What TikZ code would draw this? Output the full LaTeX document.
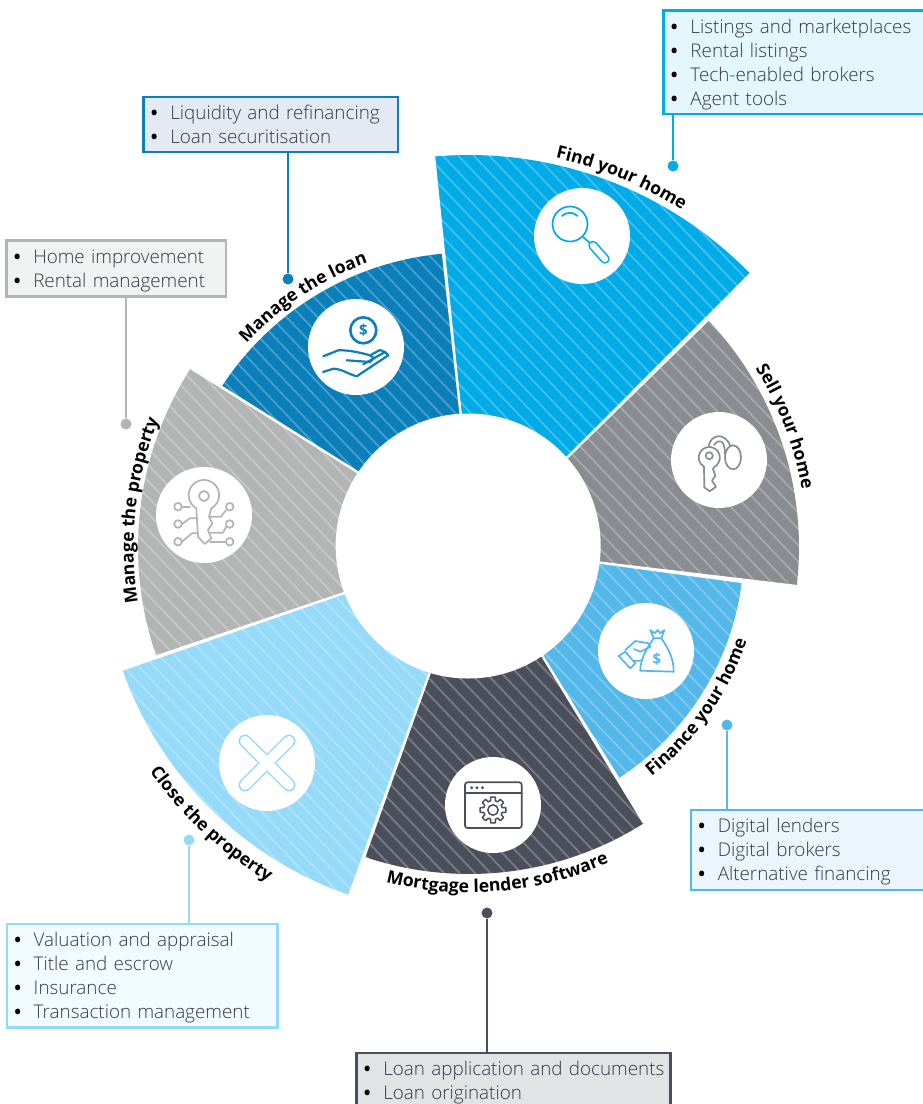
\documentclass[tikz,border=0pt]{standalone}
\usepackage{fontspec}
\setmainfont{Open Sans}[UprightFont=* Light,BoldFont=* Bold]
\usetikzlibrary{calc,decorations.text}
\definecolor{cfind}{HTML}{00ABE8}
\definecolor{csell}{HTML}{898C90}
\definecolor{cfin}{HTML}{54B7E9}
\definecolor{cmort}{HTML}{4A4F5B}
\definecolor{cclose}{HTML}{95DAF9}
\definecolor{cprop}{HTML}{B3B5B5}
\definecolor{cloan}{HTML}{0A7FBA}
\definecolor{floan}{HTML}{E3EAF4}
\definecolor{txt}{HTML}{333A45}
\newcommand\bul{\makebox[16pt][l]{\hspace*{-3.5pt}\textcolor{black}{\fontsize{18}{18}\bfseries\textbullet}}}
\newcommand\topstrut{\rule{0pt}{19pt}}
\newcommand\botstrut{\rule[-4.5pt]{0pt}{4.5pt}}
\newcommand\wedgeseg[6]{% outer from, outer to, inner from, inner to, outer radius, colour
  \begin{scope}
    \clip ($(C)+(#1:#5 pt)$) arc[start angle=#1,end angle=#2,radius=#5 pt]
      -- ($(C)+(#4:128pt)$) arc[start angle=#4,end angle=#3,radius=128pt] -- cycle;
    \fill[#6] (0,0) rectangle (923,1104);
    \foreach \k in {-70,...,60}{\draw[stripe] (15.5*\k,0) -- (15.5*\k+1000,1050);}
  \end{scope}
  \draw[seam] ($(C)+(#3:128pt)$) -- ($(C)+(#1:#5 pt)$);
  \draw[seam] ($(C)+(#4:128pt)$) -- ($(C)+(#2:#5 pt)$);
}
\newcommand\arclabel[4]{% mid angle, span (signed), radius, text
  \path[decorate,decoration={text along path,text align={center},
    text={|\bfseries\fontsize{17.6}{18}\selectfont\color{black}|#4}}]
    ($(C)+({#1-#2}:#3 pt)$) arc[start angle={#1-#2},end angle={#1+#2},radius=#3 pt];
}
\tikzset{
  stripe/.style={white,opacity=.25,line width=1.8pt},
  seam/.style={white,line width=2.2pt},
  disc/.style={circle,fill=white,minimum size=96pt,inner sep=0pt},
  hubdisc/.style={circle,fill=white,minimum size=265pt,inner sep=0pt},
  lst/.style={draw=#1,line width=2.5pt,inner xsep=11pt,inner ysep=0pt,anchor=north west,align=left,
    text=txt,font=\fontsize{18.85}{24}\selectfont},
  pin/.style={circle,fill=#1,minimum size=11pt,inner sep=0pt},
  lead/.style={draw=#1,line width=2.5pt},
  ico/.style={draw=#1,line width=1.7pt,line cap=round,line join=round},
}
\begin{document}
\begin{tikzpicture}[x=1pt,y=-1pt]
\useasboundingbox (0,0) rectangle (923,1104);
\clip (0,0) rectangle (923,1104);
\coordinate (C) at (469,547.5);
\wedgeseg{95.1}{44.2}{93.5}{42.4}{392.5}{cfind}
\wedgeseg{43.6}{-6.7}{42.4}{-6.6}{330}{csell}
\wedgeseg{-7.2}{-57.1}{-6.6}{-55.9}{275}{cfin}
\wedgeseg{-57.6}{-108.7}{-55.9}{-107.4}{326.5}{cmort}
\wedgeseg{-109}{-160.6}{-107.4}{-159.9}{367.5}{cclose}
\wedgeseg{-160.8}{-212.8}{-159.9}{-214.2}{331}{cprop}
\wedgeseg{147}{95.06}{145.8}{93.5}{295}{cloan}
\node[hubdisc] (hub) at (468.2,546) {};
\node[disc] (dfind) at (582,236) {};
\node[disc] (dsell) at (719,460) {};
\node[disc] (dfin) at (646,651) {};
\node[disc] (dmort) at (493,805) {};
\node[disc] (dclose) at (267,763) {};
\node[disc] (dprop) at (204,515) {};
\node[disc] (dloan) at (356,347) {};
% labels
\arclabel{67.6}{-30}{399}{Find your home}
\arclabel{21}{-30}{338}{Sell your home}
\arclabel{-35}{30}{293}{Finance your home}
\arclabel{-85}{30}{345}{Mortgage lender software}
\arclabel{-133}{30}{390}{Close the property}
\arclabel{173.5}{-30}{335.5}{Manage the property}
\arclabel{123.5}{-30}{302}{Manage the loan}
% boxes
\node[lst=cfind,fill=cfind!10,text width=280pt,minimum height=103.5pt] (bfind) at (662.2,9.2)
  {\bul\topstrut Listings and marketplaces\\\bul Rental listings\\\bul Tech-enabled brokers\\\bul Agent tools\botstrut};
\node[lst=cloan,fill=floan,text width=232.5pt,minimum height=55pt] (bloan) at (142,95.5)
  {\bul\topstrut Liquidity and refinancing\\\bul Loan securitisation\botstrut};
\node[lst=cprop,fill=cprop!18,text width=197.5pt,minimum height=56pt] (bprop) at (5,239)
  {\bul\topstrut Home improvement\\\bul Rental management\botstrut};
\node[lst=cfin,fill=cfin!12,text width=260pt,minimum height=80pt] (bfin) at (689.5,808.5)
  {\bul\topstrut Digital lenders\\\bul Digital brokers\\\bul Alternative financing\botstrut};
\node[lst=cclose,fill=cclose!12,text width=248.5pt,minimum height=103.5pt] (bclose) at (5.5,922.7)
  {\bul\topstrut Valuation and appraisal\\\bul Title and escrow\\\bul Insurance\\\bul Transaction management\botstrut};
\node[lst=cmort,fill=cmort!16,text width=292pt,minimum height=55pt] (bmort) at (355,1051.5)
  {\bul\topstrut\makebox[276pt][l]{Loan application and documents}\\\bul Loan origination\botstrut};
% pins and leaders
\node[pin=cfind] (pfind) at (673,166) {};
\node[pin=cloan] (ploan) at (288,279) {};
\node[pin=cprop] (pprop) at (126,424) {};
\node[pin=cfin] (pfin) at (727,725) {};
\node[pin=cmort] (pmort) at (487,913) {};
\node[pin=cclose] (pclose) at (189,840) {};
\draw[lead=cfind] (pfind) -- (pfind |- bfind.south);
\draw[lead=cloan] (ploan) -- (ploan |- bloan.south);
\draw[lead=cprop] (pprop) -- (pprop |- bprop.south);
\draw[lead=cfin] (pfin) -- (pfin |- bfin.north);
\draw[lead=cmort] (pmort) -- (pmort |- bmort.north);
\draw[lead=cclose] (pclose) -- (pclose |- bclose.north);
% icon: magnifier
\begin{scope}[shift={(dfind.center)},y=1pt]
  \draw[ico=cfind] (-12,12) circle[radius=17.5pt];
  \draw[ico=cfind] (-20,20) arc[start angle=135,end angle=45,radius=11pt];
  \draw[ico=cfind] (1,-1) -- (8,-7);
  \draw[cfind,line width=9.5pt,line cap=round] (11,-9.5) -- (23,-23);
  \draw[white,line width=6.3pt,line cap=round] (11,-9.5) -- (23,-23);
\end{scope}
% icon: hand and coin
\begin{scope}[shift={(dloan.center)},y=1pt]
  \draw[ico=cloan,line width=2.6pt] (7.3,16.7) circle[radius=13pt];
  \node[text=cloan,font=\bfseries\fontsize{15}{15}\selectfont] (dollarA) at (7.3,16.7) {\$};
  \draw[ico=cloan,line width=2.2pt] (-32.7,-9.3) -- (-17.7,-3.3) .. controls (-8,-3) and (2,-5) .. (14,-8.3) -- (24,-3) -- (29,-5);
  \draw[ico=cloan,line width=2.2pt] (-9.3,-13.3) -- (14,-15) -- (18,-11) -- (14,-8.3);
  \draw[ico=cloan,line width=2.2pt] (-33,-25) -- (-22.7,-21.7) .. controls (-14,-22) and (-8,-27) .. (0.7,-29.3) -- (32.3,-8.3) -- (29,-5) -- (7.3,-17.3);
\end{scope}
% icon: digital key
\begin{scope}[shift={(dprop.center)},y=1pt]
  \draw[ico=cprop] (0,19) circle[radius=5pt];
  \draw[ico=cprop] (-7.7,6.7) arc[start angle=-120,end angle=-420,radius=15.2pt];
  \draw[ico=cprop] (-7.7,6.7) -- (-6,-21.7) -- (0.7,-29) -- (7.3,-23.3) -- (4,-15) -- (8.3,-8.3) -- (5,-1.7) -- (7.3,6.7);
  \foreach \px/\py in {-26/8.3,-26/-9,-26/-26.7,25.7/8.3,25.7/-9,25.7/-26.7}
    {\draw[ico=cprop] (\px,\py) circle[radius=3.8pt];}
  \draw[ico=cprop] (-22,8.3) -- (-14,8.3);
  \draw[ico=cprop] (-22,-9) -- (-14,-3.3) -- (-7,-3.3);
  \draw[ico=cprop] (-22,-26.7) -- (-12,-18.3) -- (-6,-18.3);
  \draw[ico=cprop] (22,5) -- (17,-1.7) -- (5,-1.7);
  \draw[ico=cprop] (22,-12) -- (19,-17.7) -- (7,-17.7);
  \draw[ico=cprop] (22,-26.7) -- (6,-26.7);
\end{scope}
% icon: keys
\begin{scope}[shift={(dsell.center)},y=1pt]
  \draw[ico=csell] (-9.7,4.3) circle[radius=3.5pt];
  \draw[ico=csell] (-15,-6.7) arc[start angle=-120,end angle=-420,radius=10.6pt];
  \draw[ico=csell] (-15,-6.7) -- (-14.7,-27.3) -- (-9.3,-31.3) -- (-3,-26.7) -- (-7,-20.7) -- (-3.7,-15.7) -- (-6,-9) -- (-4.4,-6.7);
  \draw[ico=csell] (14,2.7) ellipse[x radius=8pt,y radius=12pt];
  \draw[ico=csell] (-10.3,14.3) .. controls (-8,26) and (6,28) .. (11.3,14);
  \draw[ico=csell] (-5,15) .. controls (0,22) and (6,20) .. (6,6);
\end{scope}
% icon: money bag
\begin{scope}[shift={(dfin.center)},y=1pt]
  \draw[ico=cfin] (4.3,21) -- (8.7,17.7) -- (11.7,21) -- (14.3,17.7) -- (18.3,21) -- (15.3,12.7) -- (7.7,12.7) -- cycle;
  \draw[ico=cfin] (7.7,12.7) .. controls (2,5) and (-6,-8) .. (-5.7,-19.7) -- (27.7,-20.7) .. controls (28,-6) and (20,6) .. (15.3,12.7);
  \node[text=cfin,font=\bfseries\fontsize{15}{15}\selectfont] (dollarB) at (11,-8) {\$};
  \draw[ico=cfin] (-27.3,-5) -- (-20.7,-0.7) -- (-10.7,-12.3) -- (-15.7,-17.3) -- cycle;
  \draw[ico=cfin] (-20.7,1) -- (-10.7,10) -- (2.7,7.7) -- (4.3,4.3) -- (-5.7,-0.7);
  \draw[ico=cfin] (-12,-10) -- (-4,-9.5);
  \draw[ico=cfin] (-12,2) -- (-5.7,-0.7);
\end{scope}
% icon: cross
\begin{scope}[shift={(dclose.center)},y=1pt]
  \draw[cclose,line width=13pt,line cap=round] (-22,22) -- (22,-22) (-22,-22) -- (22,22);
  \draw[white,line width=10pt,line cap=round] (-22,22) -- (22,-22) (-22,-22) -- (22,22);
\end{scope}
% icon: window and gear
\begin{scope}[shift={(dmort.center)},y=1pt]
  \draw[ico=cmort,rounded corners=2.5pt] (-28,22.7) rectangle (28.7,-23);
  \draw[ico=cmort] (-28,12.3) -- (28.7,12.3);
  \foreach \xx in {-21.3,-16,-10.5}{\fill[cmort] (\xx,17.3) circle[radius=1.6pt];}
  \begin{scope}[shift={(0,-5)}]
    \draw[ico=cmort,line width=1.5pt] (0,0) circle[radius=5.2pt];
    \foreach \a in {0,45,...,315}{
      \draw[ico=cmort,line width=1.5pt] ({\a-15}:9.5pt) -- ({\a-10}:13pt) -- ({\a+10}:13pt) -- ({\a+15}:9.5pt) arc[start angle={\a+15},end angle={\a+30},radius=9.5pt];
    }
  \end{scope}
\end{scope}
\end{tikzpicture}
\end{document}
